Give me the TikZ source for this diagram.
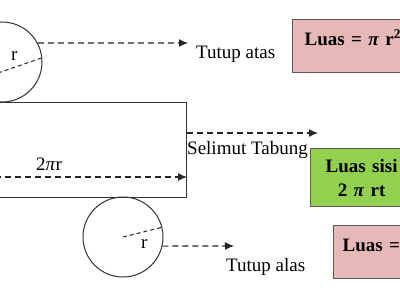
\documentclass[tikz,border=0pt]{standalone}
\usepackage{fontspec}
\setmainfont{Liberation Serif}
\usepackage{tikz}
\usetikzlibrary{arrows.meta, positioning}

\definecolor{luaspink}{RGB}{230,184,183}
\definecolor{luasgreen}{RGB}{146,208,80}
\definecolor{garisbox}{RGB}{90,90,90}

\tikzset{
    panah/.style={-{Latex[length=9pt,width=8pt]}, line width=1.2pt, dash pattern=on 6pt off 4pt, black!85},
    jari/.style={line width=1pt, dash pattern=on 4pt off 3pt, black!85},
    teks/.style={inner sep=0pt, anchor=base west, font=\fontsize{19}{22}\selectfont},
    lingkaran/.style={circle, draw=black!80, line width=1pt, minimum size=80pt, inner sep=0pt},
    kotak/.style={draw=garisbox, line width=1.3pt, inner sep=0pt, anchor=north west,
        font=\fontsize{19}{24}\selectfont\bfseries}
}

\begin{document}
\begin{tikzpicture}[x=1pt, y=-1pt]
    \useasboundingbox (0,0) rectangle (400,300);
    \clip (0,0) rectangle (400,300);

    % 1. Selimut tabung (persegi panjang)
    \node[draw=black!80, line width=1pt, minimum width=217pt, minimum height=95pt,
        anchor=north east, inner sep=0pt] (selimut) at (187,102) {};

    % 2. Tutup atas dan tutup alas
    \node[lingkaran] (atas) at (2,62) {};
    \node[lingkaran] (alas) at (123,237) {};

    % 3. Jari-jari
    \coordinate (jatas) at (-2,73);
    \draw[jari] (jatas) -- (atas.6);
    \draw[jari] (alas.center) -- (alas.14);
    \node[teks] (ratas) at (11,60) {r};
    \node[teks] (ralas) at (141,248) {r};

    % 4. Keliling 2 pi r
    \coordinate (kiri) at (-5,177);
    \draw[panah] (kiri) -- (kiri -| selimut.east);
    \node[teks] (keliling) at (36,170) {2\textit{π}r};

    % 5. Panah ke keterangan
    \coordinate (ujungatas) at (188,43);
    \coordinate (pangkalselimut) at (187,133);
    \coordinate (ujungselimut) at (318,133);
    \coordinate (ujungalas) at (234,246);
    \draw[panah] (atas.28) -- (ujungatas);
    \draw[panah] (pangkalselimut) -- (ujungselimut);
    \draw[panah] (alas.-13) -- (ujungalas);

    \node[teks] (tatas) at (196,58) {Tutup atas};
    \node[teks] (tselimut) at (187,154) {Selimut Tabung};
    \node[teks] (talas) at (226,271) {Tutup alas};

    % 6. Kotak luas
    \node[kotak, fill=luaspink, minimum width=130pt, minimum height=53pt,
        inner xsep=12pt, text height=12pt, text depth=14pt, align=left,
        text width=106pt] (luasatas) at (292,19)
        {Luas = \textit{π} r\textsuperscript{2}};
    \node[kotak, fill=luasgreen, minimum width=102pt, minimum height=58pt,
        align=center, text width=102pt] (luassisi) at (310,148)
        {Luas sisi\\2 \textit{π} rt};
    \node[kotak, fill=luaspink, minimum width=90pt, minimum height=53pt,
        inner xsep=9pt, text height=12pt, text depth=14pt, align=left,
        text width=72pt] (luasalas) at (333,225)
        {Luas =};
\end{tikzpicture}
\end{document}
